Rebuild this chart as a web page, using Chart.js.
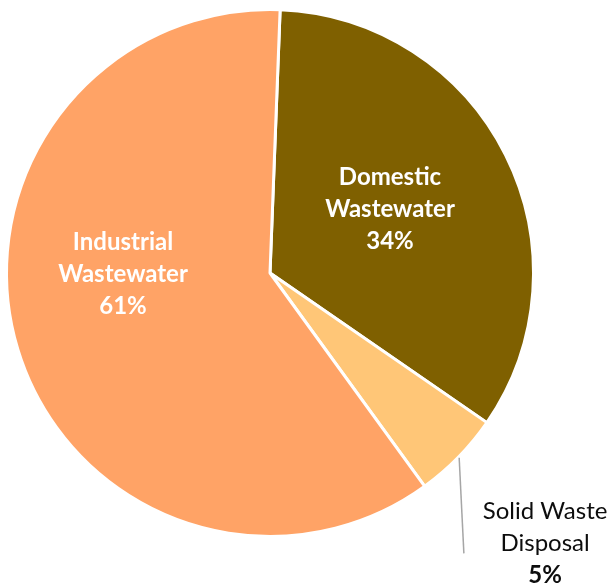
<!DOCTYPE html>
<html>
<head>
<meta charset="utf-8">
<script src="https://cdn.jsdelivr.net/npm/chart.js@4/dist/chart.umd.min.js"></script>
<style>
  html, body { margin: 0; padding: 0; background: #ffffff; }
  #wrap { width: 612px; height: 583px; position: relative; }
</style>
</head>
<body>
<div id="wrap"><canvas id="c" width="612" height="583"></canvas></div>
<script>
// ---- Data ----
const categories = ["Domestic Wastewater", "Solid Waste Disposal", "Industrial Wastewater"];
const labelLines = [["Domestic", "Wastewater"], ["Solid Waste", "Disposal"], ["Industrial", "Wastewater"]];
const shares = [34.0, 5.4, 60.6];
const percentLabels = ["34%", "5%", "61%"];
const sliceColors = ["#7F6000", "#FFC677", "#FFA366"];

// Label placement (relative to pie centre, in units of the pie radius)
const labelStyle = [
  { dx: 0.458, dy: -0.245, inside: true },
  { dx: 1.050, dy: 1.031, inside: false, leader: [[0.722, 0.705], [0.740, 1.070]] },
  { dx: -0.561, dy: 0.004, inside: true }
];

const labelPlugin = {
  id: 'sliceLabels',
  afterDatasetsDraw(chart) {
    const ctx = chart.ctx;
    const meta = chart.getDatasetMeta(0);
    meta.data.forEach((arc, i) => {
      const cx = arc.x, cy = arc.y, r = arc.outerRadius - 1.5;
      const st = labelStyle[i];
      const tx = cx + st.dx * r, ty = cy + st.dy * r;
      ctx.save();
      if (st.leader) {
        ctx.strokeStyle = '#A6A6A6';
        ctx.lineWidth = 1.5;
        ctx.beginPath();
        ctx.moveTo(cx + st.leader[0][0] * r, cy + st.leader[0][1] * r);
        ctx.lineTo(cx + st.leader[1][0] * r, cy + st.leader[1][1] * r);
        ctx.stroke();
      }
      const lines = labelLines[i].concat([percentLabels[i]]);
      const lh = 32;
      const top = ty - lh * (lines.length - 1) / 2;
      ctx.textAlign = 'center';
      ctx.textBaseline = 'middle';
      lines.forEach((t, k) => {
        const isPct = k === lines.length - 1;
        if (st.inside) {
          ctx.fillStyle = '#FFFFFF';
          ctx.font = 'bold 24px Lato';
        } else {
          ctx.fillStyle = '#0D0D0D';
          ctx.font = (isPct ? 'bold ' : '') + '24px Lato';
        }
        ctx.fillText(t, tx, top + k * lh);
      });
      ctx.restore();
    });
  }
};

new Chart(document.getElementById('c'), {
  type: 'pie',
  data: {
    labels: categories,
    datasets: [{
      data: shares,
      backgroundColor: sliceColors,
      borderColor: '#FFFFFF',
      borderWidth: 3,
      radius: 263.5,
      hoverOffset: 0
    }]
  },
  options: {
    responsive: false,
    animation: false,
    rotation: 2.2,
    layout: { padding: { left: 0, top: 0, right: 72, bottom: 37 } },
    plugins: {
      legend: { display: false },
      tooltip: { enabled: false }
    }
  },
  plugins: [labelPlugin]
});
</script>
</body>
</html>
